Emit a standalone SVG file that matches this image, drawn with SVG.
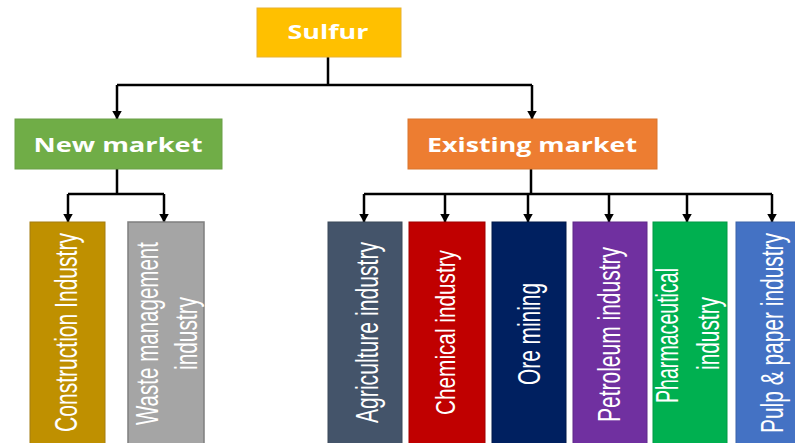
<svg xmlns="http://www.w3.org/2000/svg" width="795" height="443" viewBox="0 0 795 443">
  <defs>
    <marker id="arr" markerUnits="userSpaceOnUse" markerWidth="9" markerHeight="10" refX="8.5" refY="5" orient="auto">
      <path d="M0,0 L9,5 L0,10 z" fill="#000"/>
    </marker>
  </defs>
  <style>
    .head { font-family: "Open Sans", "Liberation Sans", sans-serif; font-weight: bold; font-size: 20px; fill: #ffffff; text-anchor: middle; }
    .vt { font-family: "Liberation Sans", "DejaVu Sans", sans-serif; font-size: 32px; fill: #ffffff; text-anchor: middle; }
    .ln { fill: none; stroke: #000; stroke-width: 2.5; }
    .ar { fill: none; stroke: #000; stroke-width: 2.5; marker-end: url(#arr); }
  </style>
  <rect width="795" height="443" fill="#ffffff"/>

  <g id="connectors">
    <path class="ln" d="M328,57 V85 M117,85 H532"/>
    <path class="ar" d="M117,85 V119"/>
    <path class="ar" d="M532,85 V119"/>
    <path class="ln" d="M117,169 V194 M68,194 H164"/>
    <path class="ar" d="M68,194 V222"/>
    <path class="ar" d="M164,194 V222"/>
    <path class="ln" d="M531,169 V194 M364,194 H772"/>
    <path class="ar" d="M364,194 V222"/>
    <path class="ar" d="M445,194 V222"/>
    <path class="ar" d="M528,194 V222"/>
    <path class="ar" d="M609,194 V222"/>
    <path class="ar" d="M687,194 V222"/>
    <path class="ar" d="M772,194 V222"/>
  </g>

  <g id="sulfur">
    <rect x="257" y="8" width="144" height="49" fill="#FFC000" stroke="#E8B230" stroke-width="1"/>
    <text class="head" x="328" y="39" textLength="81" lengthAdjust="spacingAndGlyphs">Sulfur</text>
  </g>
  <g id="new-market">
    <rect x="15" y="119" width="207" height="50" fill="#70AD47" stroke="#6A9F48" stroke-width="1"/>
    <text class="head" x="118" y="152" textLength="169" lengthAdjust="spacingAndGlyphs">New market</text>
  </g>
  <g id="existing-market">
    <rect x="408" y="119" width="249" height="50" fill="#ED7D31" stroke="#D9762F" stroke-width="1"/>
    <text class="head" x="532" y="152" textLength="210" lengthAdjust="spacingAndGlyphs">Existing market</text>
  </g>

  <g id="construction">
    <rect x="30" y="222" width="75" height="225" fill="#BF9000" stroke="#A47C10" stroke-width="1"/>
    <text class="vt" transform="translate(77,332.5) rotate(-90)" textLength="199" lengthAdjust="spacingAndGlyphs">Construction Industry</text>
  </g>
  <g id="waste">
    <rect x="128" y="222" width="76" height="225" fill="#A5A5A5" stroke="#7F7F7F" stroke-width="1.5"/>
    <text class="vt" transform="translate(158,333.5) rotate(-90)" textLength="183" lengthAdjust="spacingAndGlyphs">Waste management</text>
    <text class="vt" transform="translate(197,333.5) rotate(-90)" textLength="73" lengthAdjust="spacingAndGlyphs">industry</text>
  </g>
  <g id="agriculture">
    <rect x="328" y="222" width="74" height="225" fill="#44546A" stroke="#3A4858" stroke-width="1"/>
    <text class="vt" transform="translate(378,332.5) rotate(-90)" textLength="181" lengthAdjust="spacingAndGlyphs">Agriculture industry</text>
  </g>
  <g id="chemical">
    <rect x="409" y="222" width="76" height="225" fill="#C00000" stroke="#A00000" stroke-width="1"/>
    <text class="vt" style="font-size:28px" transform="translate(455,332.5) rotate(-90)" textLength="165" lengthAdjust="spacingAndGlyphs">Chemical industry</text>
  </g>
  <g id="ore">
    <rect x="492" y="222" width="74" height="225" fill="#002060" stroke="#001848" stroke-width="1"/>
    <text class="vt" transform="translate(540,334) rotate(-90)" textLength="102" lengthAdjust="spacingAndGlyphs">Ore mining</text>
  </g>
  <g id="petroleum">
    <rect x="573" y="222" width="74" height="225" fill="#7030A0" stroke="#5F2888" stroke-width="1"/>
    <text class="vt" transform="translate(620,334.5) rotate(-90)" textLength="175" lengthAdjust="spacingAndGlyphs">Petroleum industry</text>
  </g>
  <g id="pharmaceutical">
    <rect x="653" y="222" width="74" height="225" fill="#00B050" stroke="#009944" stroke-width="1"/>
    <text class="vt" transform="translate(678,335.5) rotate(-90)" textLength="135" lengthAdjust="spacingAndGlyphs">Pharmaceutical</text>
    <text class="vt" transform="translate(719,333.5) rotate(-90)" textLength="73" lengthAdjust="spacingAndGlyphs">industry</text>
  </g>
  <g id="pulp-paper">
    <rect x="736" y="222" width="74" height="225" fill="#4472C4" stroke="#3A62A8" stroke-width="1"/>
    <text class="vt" transform="translate(783,333) rotate(-90)" textLength="200" lengthAdjust="spacingAndGlyphs">Pulp &amp; paper industry</text>
  </g>
</svg>
